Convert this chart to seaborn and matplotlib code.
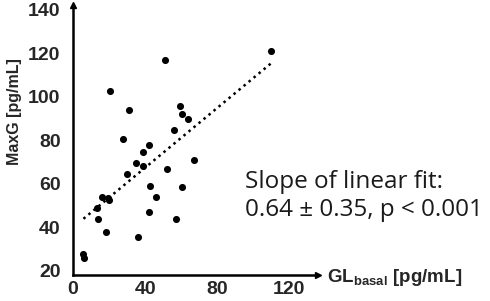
import numpy as np
import pandas as pd
import matplotlib
matplotlib.use("Agg")
import matplotlib.pyplot as plt
import matplotlib.transforms as mtransforms
import seaborn as sns

# valores
gl_basal = [51, 20.6, 31, 59.4, 60.5, 64, 56, 27.8, 42.2, 38.7, 35, 38.7, 67, 52, 30,
            43, 60.4, 16, 19.6, 20, 13.5, 46, 14, 42, 57, 18.3, 36, 5.8, 6.1, 110]
max_g = [118.6, 104.4, 95.7, 97.5, 93.8, 91.5, 86.5, 82.4, 79.6, 76.4, 71.4, 70, 72.8, 68.6, 66.3,
         60.8, 60.4, 55.8, 55.3, 54.4, 50.7, 55.8, 46, 49, 46, 39.6, 37.4, 29.6, 27.8, 122.8]
df = pd.DataFrame({"GL": gl_basal, "MaxG": max_g})

sns.set_style("white")
plt.rcParams["font.family"] = ["Liberation Sans", "DejaVu Sans"]
plt.rcParams["mathtext.fontset"] = "custom"
plt.rcParams["mathtext.rm"] = "Liberation Sans"
plt.rcParams["mathtext.bf"] = "Liberation Sans:bold"

fig = plt.figure(figsize=(4.9, 3.01), dpi=100)
ax = fig.add_axes([0.149, 0.086, 0.50, 0.897])

sns.regplot(data=df, x="GL", y="MaxG", ax=ax, ci=None, truncate=True,
            scatter_kws={"s": 26, "color": "black", "alpha": 1, "linewidths": 0},
            line_kws={"color": "black", "lw": 1.8, "linestyle": (0, (1, 1.6))})

ax.set_xlim(0, 136)
ax.set_ylim(20, 144)
ax.set_xticks([0, 40, 80, 120])
ax.set_yticks([20, 40, 60, 80, 100, 120, 140])
ax.tick_params(direction="in", length=3, width=1, labelsize=14)
ax.tick_params(axis="y", pad=9)
ax.tick_params(axis="x", pad=4)
shift = mtransforms.ScaledTranslation(0, 3 / 72, fig.dpi_scale_trans)
for lbl in ax.get_yticklabels():
    lbl.set_fontweight("bold")
    lbl.set_transform(lbl.get_transform() + shift)
for lbl in ax.get_xticklabels():
    lbl.set_fontweight("bold")

sns.despine(ax=ax)
for s in ["left", "bottom"]:
    ax.spines[s].set_linewidth(1.8)
    ax.spines[s].set_color("black")
ax.plot(1, 0, ">k", ms=5, transform=ax.transAxes, clip_on=False)
ax.plot(0, 1, "^k", ms=5, transform=ax.transAxes, clip_on=False)

ax.set_ylabel("")
ax.set_xlabel("")
fig.text(0.029, 0.631, "MaxG [pg/mL]", fontsize=11.5, fontweight="bold",
         rotation=90, ha="center", va="center")
fig.text(0.668, 0.063, r"$\mathbf{GL}_{\mathbf{basal}}$ [pg/mL]", fontsize=13.5,
         fontweight="bold", ha="left", va="baseline")

fig.text(0.50, 0.375, "Slope of linear fit:", fontsize=17.5,
         family=["Open Sans", "DejaVu Sans"], ha="left", va="baseline", color="#1a1a1a")
fig.text(0.50, 0.282, "0.64 ± 0.35, p < 0.001", fontsize=17.5,
         family=["Open Sans", "DejaVu Sans"], ha="left", va="baseline", color="#1a1a1a")

fig.savefig("out.png", dpi=100)
